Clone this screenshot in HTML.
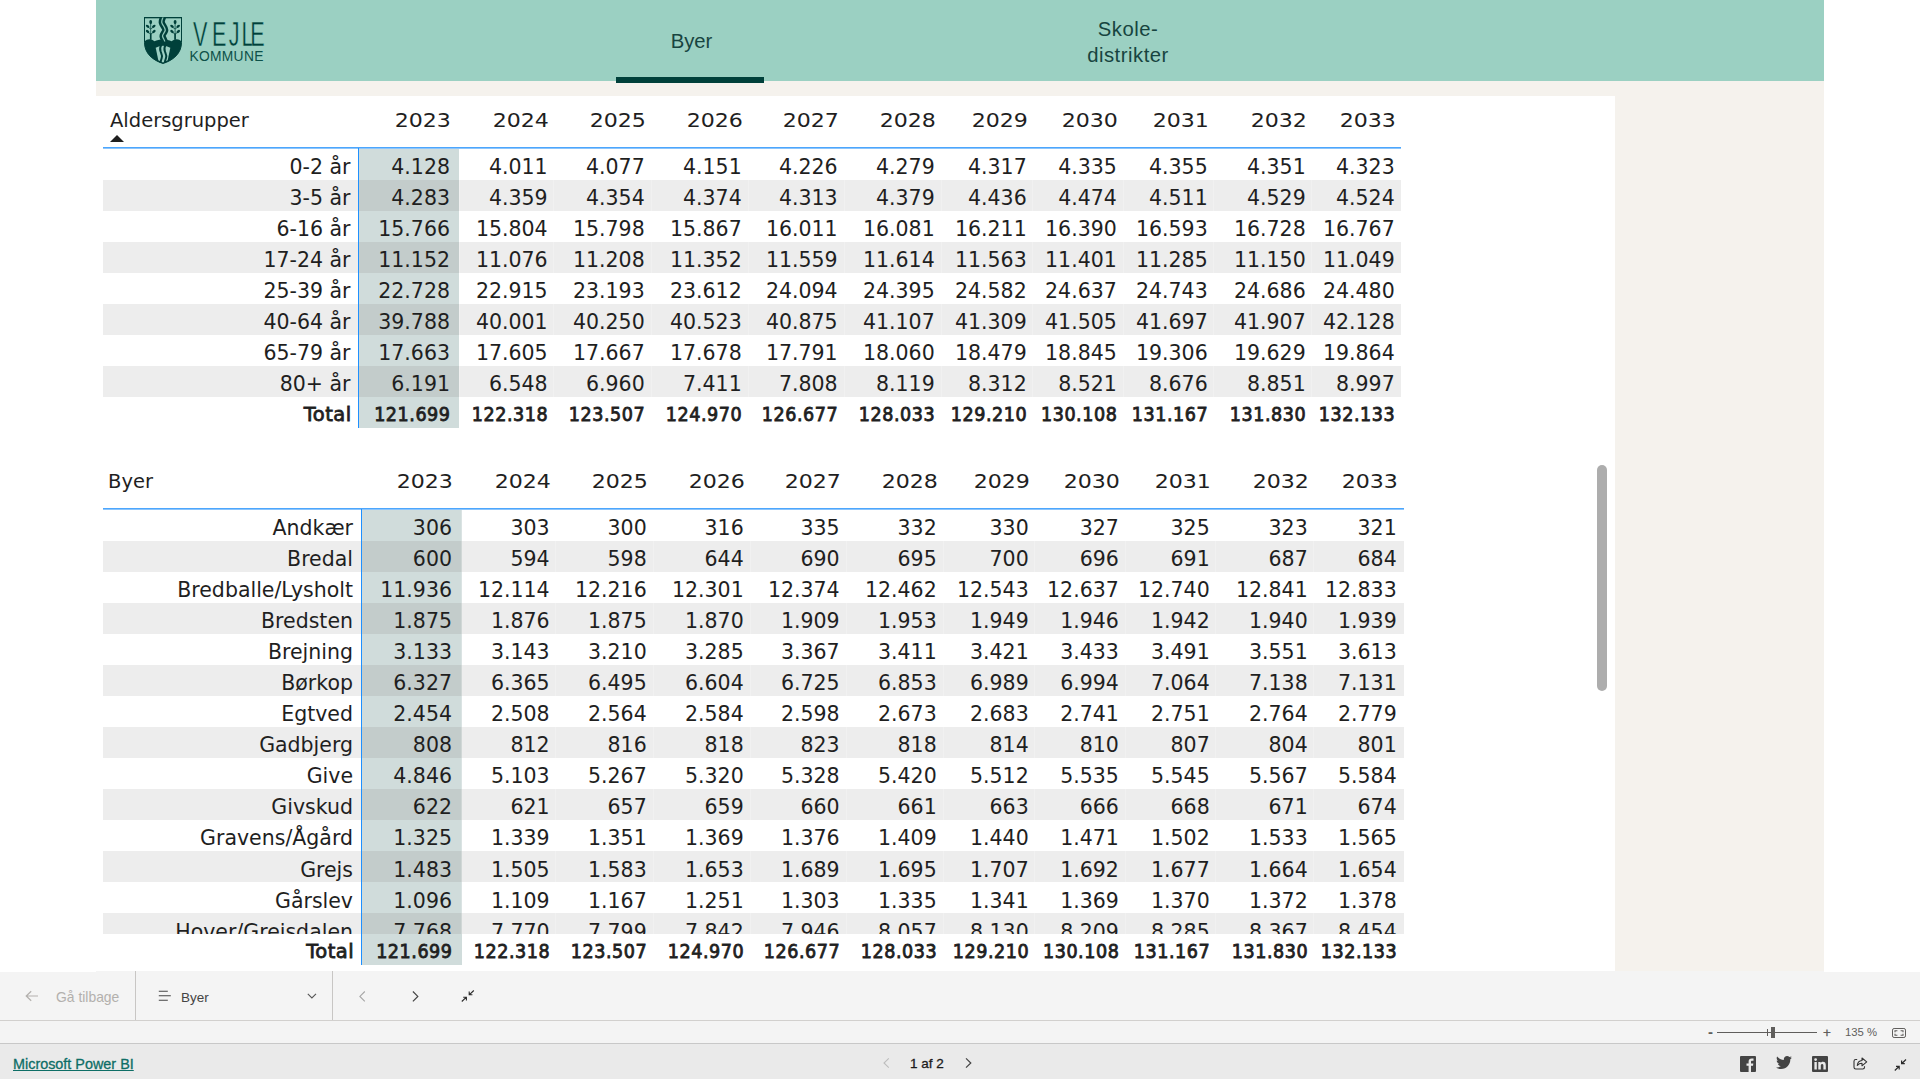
<!DOCTYPE html>
<html lang="da">
<head>
<meta charset="utf-8">
<title>Befolkningsprognose - Byer</title>
<style>
*{box-sizing:border-box;margin:0;padding:0}
html,body{width:1920px;height:1079px;overflow:hidden;background:#fff}
body{position:relative;font-family:"DejaVu Sans","Liberation Sans",sans-serif;color:#1f1f1f}
.abs{position:absolute}
#canvas{position:absolute;left:96px;top:0;width:1728px;height:971px;background:#f5f2ed;overflow:hidden}
#hdr{position:absolute;left:0;top:0;width:1728px;height:81px;background:#9bd0c2}
#panel{position:absolute;left:0;top:96px;width:1519px;height:875px;background:#fff}
.nav{position:absolute;color:#17443f;font-family:"Liberation Sans",sans-serif;font-size:20.3px;text-align:center;white-space:nowrap}
#navline{position:absolute;left:616px;top:77px;width:148px;height:5.5px;background:#00403a}
/* tables */
.tbl{position:absolute;height:540px;font-size:20.5px}
.hrow{position:absolute;left:0;right:0;height:31px;line-height:31px}
.hrow span{position:absolute;top:0;white-space:nowrap}
.hl{font-size:19.5px}
.hc{font-size:20px;transform:scaleX(1.105);transform-origin:100% 50%;margin-right:-1.3px}
.sort{position:absolute;width:0;height:0;border-left:7px solid transparent;border-right:7px solid transparent;border-bottom:7px solid #1f1f1f}
.hline{position:absolute;left:0;right:0;height:2px;background:linear-gradient(#4ca6fd 0,#4ca6fd 50%,#8cc5fc 50%,#8cc5fc 100%)}
.vline{position:absolute;width:1.4px;background:#1e90ff}
.body{position:absolute;left:0;right:0;overflow:hidden}
.row{position:absolute;left:0;right:0;height:31px;line-height:31px}
.row.alt{background:#ededed}
.row span{position:absolute;top:var(--o,1.5px);white-space:nowrap}
.hi{position:absolute;top:0;background:#d0dcdb}
.hia{position:absolute;top:0;height:31px;background:#c3cccb}
.cs{position:absolute;top:0;bottom:0;width:1px;background:rgba(255,255,255,0.22)}
.hit{position:absolute;top:0;height:31px;background:#d0dcdb}
.tot{font-size:19.5px;-webkit-text-stroke:0.8px #1f1f1f}
.tot .c{font-family:"DejaVu Sans Condensed","DejaVu Sans",sans-serif;font-stretch:condensed;letter-spacing:0.55px;margin-right:-0.55px}
.tot .lab{letter-spacing:0.5px;margin-right:-1.2px}
/* bottom bars */
#tb{position:absolute;left:0;top:971px;width:1920px;height:50px;background:#f4f4f4;border-bottom:1px solid #d2d0ce}
#zb{position:absolute;left:0;top:1021px;width:1920px;height:23px;background:#f4f4f4;border-bottom:1px solid #c8c8c8}
#ft{position:absolute;left:0;top:1044px;width:1920px;height:35px;background:#eaeaea}
.sep{position:absolute;top:971px;width:1px;height:49px;background:#c8c6c4}
.ui{position:absolute;font-family:"Liberation Sans",sans-serif;white-space:nowrap}
svg{position:absolute;overflow:visible}
</style>
</head>
<body>
<div id="canvas">
  <div id="hdr"></div>
  <div id="panel"></div>
</div>

<!-- logo -->
<svg style="left:144px;top:17px" width="38" height="47" viewBox="0 0 38 47">
  <path d="M0.5 0.6H37.5V25.5C37.5 36.5 29 43.4 19 46.5C9 43.4 0.5 36.5 0.5 25.5Z" fill="none" stroke="#00403a" stroke-width="1"/>
  <path d="M0 0H38V1.2H0Z" fill="#00403a"/>
  <path d="M0.5 24.4C2 23 3.6 22.3 5.3 22.3C7.3 22.3 9 23 10.5 24.3C12.8 23.2 15.6 22.6 19 22.6C22.4 22.6 25.2 23.2 27.6 24.3C29.1 23 30.8 22.3 32.8 22.3C34.5 22.3 36 23 37.5 24.4V25.5C37.5 36.500 29 43.400 19 46.5C9 43.400 0.500 36.500 0.500 25.500Z" fill="#00403a"/>
  <clipPath id="shc"><path d="M0.5 0.6H37.5V25.5C37.5 36.5 29 43.4 19 46.5C9 43.4 0.5 36.5 0.5 25.5Z"/></clipPath>
  <!-- river top -->
  <path d="M19.200 -1C19.200 1 17.300 3 17.800 5.600S21.800 11 21.200 13.500S18 17.500 18.600 19.500S20.700 23.200 20.700 24.500" fill="none" stroke="#00403a" stroke-width="6.200" clip-path="url(#shc)"/>
  <path d="M19.200 -1C19.200 1 17.300 3 17.800 5.600S21.800 11 21.200 13.500S18 17.500 18.600 19.500S20.700 23.200 20.700 24.500" fill="none" stroke="#8cc4b6" stroke-width="1.300" clip-path="url(#shc)"/>
  <!-- lower piers + river -->
  <path d="M11.700 30.700Q19 26.600 26.300 30.700L23.700 43.300L19 45.400L14.300 43.300Z" fill="#9bd0c2"/>
  <path d="M17.400 27.500C16 30 15.600 32 16.600 34.500S18.600 38.500 17.700 41S16.600 44.500 16.600 46" fill="none" stroke="#00403a" stroke-width="2"/>
  <path d="M21.700 27.500C20.300 30 19.900 32 20.900 34.500S22.900 38.500 22 41S20.800 44.500 20.800 46" fill="none" stroke="#00403a" stroke-width="2"/>
  <!-- trees -->
    <path d="M6.7 6V22.6" stroke="#1a5a52" stroke-width="0.9" fill="none"/>
    <path d="M6.7 16.5V22.8" stroke="#00403a" stroke-width="1.6" fill="none"/>
    <path d="M4.1 10.2L6.7 12L9.3 10.2M4.1 15.4L6.7 17.2L9.3 15.4" stroke="#00403a" stroke-width="0.7" fill="none"/>
    <ellipse cx="6.7" cy="5.1" rx="1.45" ry="2.1" fill="#00403a"/>
    <ellipse cx="3.6" cy="9.3" rx="2" ry="1.25" fill="#00403a" transform="rotate(38 3.6 9.3)"/>
    <ellipse cx="9.8" cy="9.3" rx="2" ry="1.25" fill="#00403a" transform="rotate(-38 9.8 9.3)"/>
    <ellipse cx="3.6" cy="14.5" rx="2" ry="1.25" fill="#00403a" transform="rotate(38 3.6 14.5)"/>
    <ellipse cx="9.9" cy="14.5" rx="2" ry="1.25" fill="#00403a" transform="rotate(-38 9.9 14.5)"/>
    <path d="M31.1 6V22.6" stroke="#1a5a52" stroke-width="0.9" fill="none"/>
    <path d="M31.1 16.5V22.8" stroke="#00403a" stroke-width="1.6" fill="none"/>
    <path d="M28.5 10.2L31.1 12L33.7 10.2M28.5 15.4L31.1 17.2L33.7 15.4" stroke="#00403a" stroke-width="0.7" fill="none"/>
    <ellipse cx="31.1" cy="5.1" rx="1.45" ry="2.1" fill="#00403a"/>
    <ellipse cx="28.0" cy="9.3" rx="2" ry="1.25" fill="#00403a" transform="rotate(38 28.0 9.3)"/>
    <ellipse cx="34.2" cy="9.3" rx="2" ry="1.25" fill="#00403a" transform="rotate(-38 34.2 9.3)"/>
    <ellipse cx="28.0" cy="14.5" rx="2" ry="1.25" fill="#00403a" transform="rotate(38 28.0 14.5)"/>
    <ellipse cx="34.3" cy="14.5" rx="2" ry="1.25" fill="#00403a" transform="rotate(-38 34.3 14.5)"/>
</svg>
<svg style="left:186px;top:15px" width="84" height="50" viewBox="0 0 84 50">
  <text transform="scale(0.6,1)" x="11.53 43.4 71.41 92.41 106.98" y="30.5" font-family="Liberation Sans, sans-serif" font-size="36" fill="#00403a" stroke="#9bd0c2" stroke-width="0.5">VEJLE</text>
  <text x="3.4" y="45.6" font-family="Liberation Sans, sans-serif" font-size="13.8" fill="#0d5049" textLength="74" lengthAdjust="spacing">KOMMUNE</text>
</svg>

<!-- nav -->
<div class="nav" style="left:641.5px;top:28.5px;width:100px;line-height:24px">Byer</div>
<div class="nav" style="left:1068px;top:15.5px;width:120px;line-height:26px;letter-spacing:0.5px">Skole-<br>distrikter</div>
<div id="navline"></div>

<div class="tbl" style="left:103px;top:96px;width:1298px">
<div class="hrow" style="top:8.900000000000006px">
<span class="hl" style="left:7px">Aldersgrupper</span>
<span class="hc" style="right:951.0px">2023</span>
<span class="hc" style="right:853.4px">2024</span>
<span class="hc" style="right:756.3px">2025</span>
<span class="hc" style="right:659.3px">2026</span>
<span class="hc" style="right:563.4px">2027</span>
<span class="hc" style="right:466.3px">2028</span>
<span class="hc" style="right:374.3px">2029</span>
<span class="hc" style="right:284.2px">2030</span>
<span class="hc" style="right:193.3px">2031</span>
<span class="hc" style="right:95.3px">2032</span>
<span class="hc" style="right:6.3px">2033</span>
</div>
<div class="sort" style="left:7px;top:39px"></div>
<div class="hline" style="top:51px"></div>
<div class="body" style="top:53px;height:248px">
<div class="hi" style="left:256px;width:100px;height:248px"></div>
<div class="row" style="top:0px;--o:2.55px">
<span class="lab" style="right:1050.5px">0-2 år</span>
<span class="c" style="right:951.0px">4.128</span>
<span class="c" style="right:853.4px">4.011</span>
<span class="c" style="right:756.3px">4.077</span>
<span class="c" style="right:659.3px">4.151</span>
<span class="c" style="right:563.4px">4.226</span>
<span class="c" style="right:466.3px">4.279</span>
<span class="c" style="right:374.3px">4.317</span>
<span class="c" style="right:284.2px">4.335</span>
<span class="c" style="right:193.3px">4.355</span>
<span class="c" style="right:95.3px">4.351</span>
<span class="c" style="right:6.3px">4.323</span>
</div>
<div class="row alt" style="top:31px;--o:2.64px">
<i class="hia" style="left:256px;width:100px"></i>
<span class="lab" style="right:1050.5px">3-5 år</span>
<span class="c" style="right:951.0px">4.283</span>
<span class="c" style="right:853.4px">4.359</span>
<span class="c" style="right:756.3px">4.354</span>
<span class="c" style="right:659.3px">4.374</span>
<span class="c" style="right:563.4px">4.313</span>
<span class="c" style="right:466.3px">4.379</span>
<span class="c" style="right:374.3px">4.436</span>
<span class="c" style="right:284.2px">4.474</span>
<span class="c" style="right:193.3px">4.511</span>
<span class="c" style="right:95.3px">4.529</span>
<span class="c" style="right:6.3px">4.524</span>
</div>
<div class="row" style="top:62px;--o:2.73px">
<span class="lab" style="right:1050.5px">6-16 år</span>
<span class="c" style="right:951.0px">15.766</span>
<span class="c" style="right:853.4px">15.804</span>
<span class="c" style="right:756.3px">15.798</span>
<span class="c" style="right:659.3px">15.867</span>
<span class="c" style="right:563.4px">16.011</span>
<span class="c" style="right:466.3px">16.081</span>
<span class="c" style="right:374.3px">16.211</span>
<span class="c" style="right:284.2px">16.390</span>
<span class="c" style="right:193.3px">16.593</span>
<span class="c" style="right:95.3px">16.728</span>
<span class="c" style="right:6.3px">16.767</span>
</div>
<div class="row alt" style="top:93px;--o:2.82px">
<i class="hia" style="left:256px;width:100px"></i>
<span class="lab" style="right:1050.5px">17-24 år</span>
<span class="c" style="right:951.0px">11.152</span>
<span class="c" style="right:853.4px">11.076</span>
<span class="c" style="right:756.3px">11.208</span>
<span class="c" style="right:659.3px">11.352</span>
<span class="c" style="right:563.4px">11.559</span>
<span class="c" style="right:466.3px">11.614</span>
<span class="c" style="right:374.3px">11.563</span>
<span class="c" style="right:284.2px">11.401</span>
<span class="c" style="right:193.3px">11.285</span>
<span class="c" style="right:95.3px">11.150</span>
<span class="c" style="right:6.3px">11.049</span>
</div>
<div class="row" style="top:124px;--o:2.91px">
<span class="lab" style="right:1050.5px">25-39 år</span>
<span class="c" style="right:951.0px">22.728</span>
<span class="c" style="right:853.4px">22.915</span>
<span class="c" style="right:756.3px">23.193</span>
<span class="c" style="right:659.3px">23.612</span>
<span class="c" style="right:563.4px">24.094</span>
<span class="c" style="right:466.3px">24.395</span>
<span class="c" style="right:374.3px">24.582</span>
<span class="c" style="right:284.2px">24.637</span>
<span class="c" style="right:193.3px">24.743</span>
<span class="c" style="right:95.3px">24.686</span>
<span class="c" style="right:6.3px">24.480</span>
</div>
<div class="row alt" style="top:155px;--o:3.00px">
<i class="hia" style="left:256px;width:100px"></i>
<span class="lab" style="right:1050.5px">40-64 år</span>
<span class="c" style="right:951.0px">39.788</span>
<span class="c" style="right:853.4px">40.001</span>
<span class="c" style="right:756.3px">40.250</span>
<span class="c" style="right:659.3px">40.523</span>
<span class="c" style="right:563.4px">40.875</span>
<span class="c" style="right:466.3px">41.107</span>
<span class="c" style="right:374.3px">41.309</span>
<span class="c" style="right:284.2px">41.505</span>
<span class="c" style="right:193.3px">41.697</span>
<span class="c" style="right:95.3px">41.907</span>
<span class="c" style="right:6.3px">42.128</span>
</div>
<div class="row" style="top:186px;--o:3.09px">
<span class="lab" style="right:1050.5px">65-79 år</span>
<span class="c" style="right:951.0px">17.663</span>
<span class="c" style="right:853.4px">17.605</span>
<span class="c" style="right:756.3px">17.667</span>
<span class="c" style="right:659.3px">17.678</span>
<span class="c" style="right:563.4px">17.791</span>
<span class="c" style="right:466.3px">18.060</span>
<span class="c" style="right:374.3px">18.479</span>
<span class="c" style="right:284.2px">18.845</span>
<span class="c" style="right:193.3px">19.306</span>
<span class="c" style="right:95.3px">19.629</span>
<span class="c" style="right:6.3px">19.864</span>
</div>
<div class="row alt" style="top:217px;--o:3.18px">
<i class="hia" style="left:256px;width:100px"></i>
<span class="lab" style="right:1050.5px">80+ år</span>
<span class="c" style="right:951.0px">6.191</span>
<span class="c" style="right:853.4px">6.548</span>
<span class="c" style="right:756.3px">6.960</span>
<span class="c" style="right:659.3px">7.411</span>
<span class="c" style="right:563.4px">7.808</span>
<span class="c" style="right:466.3px">8.119</span>
<span class="c" style="right:374.3px">8.312</span>
<span class="c" style="right:284.2px">8.521</span>
<span class="c" style="right:193.3px">8.676</span>
<span class="c" style="right:95.3px">8.851</span>
<span class="c" style="right:6.3px">8.997</span>
</div>
<i class="cs" style="left:355.5px"></i>
<i class="cs" style="left:449.5px"></i>
<i class="cs" style="left:547.5px"></i>
<i class="cs" style="left:645.0px"></i>
<i class="cs" style="left:740.5px"></i>
<i class="cs" style="left:837.5px"></i>
<i class="cs" style="left:928.5px"></i>
<i class="cs" style="left:1019.5px"></i>
<i class="cs" style="left:1110.0px"></i>
<i class="cs" style="left:1208.0px"></i>
</div>
<div class="row tot" style="top:301px;--o:2.0px">
<i class="hit" style="left:256px;width:100px"></i>
<span class="lab" style="right:1050.5px">Total</span>
<span class="c" style="right:951.0px">121.699</span>
<span class="c" style="right:853.4px">122.318</span>
<span class="c" style="right:756.3px">123.507</span>
<span class="c" style="right:659.3px">124.970</span>
<span class="c" style="right:563.4px">126.677</span>
<span class="c" style="right:466.3px">128.033</span>
<span class="c" style="right:374.3px">129.210</span>
<span class="c" style="right:284.2px">130.108</span>
<span class="c" style="right:193.3px">131.167</span>
<span class="c" style="right:95.3px">131.830</span>
<span class="c" style="right:6.3px">132.133</span>
</div>
<div class="vline" style="left:255px;top:52px;height:280px"></div>
</div>
<div class="tbl" style="left:103px;top:457px;width:1301px">
<div class="hrow" style="top:9px">
<span class="hl" style="left:5px">Byer</span>
<span class="hc" style="right:952.0px">2023</span>
<span class="hc" style="right:854.4px">2024</span>
<span class="hc" style="right:757.3px">2025</span>
<span class="hc" style="right:660.3px">2026</span>
<span class="hc" style="right:564.4px">2027</span>
<span class="hc" style="right:467.3px">2028</span>
<span class="hc" style="right:375.3px">2029</span>
<span class="hc" style="right:285.2px">2030</span>
<span class="hc" style="right:194.3px">2031</span>
<span class="hc" style="right:96.3px">2032</span>
<span class="hc" style="right:7.3px">2033</span>
</div>
<div class="hline" style="top:51px"></div>
<div class="body" style="top:53px;height:424px">
<div class="hi" style="left:259px;width:100px;height:434px"></div>
<div class="row" style="top:0px;--o:2.55px">
<span class="lab" style="right:1051px">Andkær</span>
<span class="c" style="right:952.0px">306</span>
<span class="c" style="right:854.4px">303</span>
<span class="c" style="right:757.3px">300</span>
<span class="c" style="right:660.3px">316</span>
<span class="c" style="right:564.4px">335</span>
<span class="c" style="right:467.3px">332</span>
<span class="c" style="right:375.3px">330</span>
<span class="c" style="right:285.2px">327</span>
<span class="c" style="right:194.3px">325</span>
<span class="c" style="right:96.3px">323</span>
<span class="c" style="right:7.3px">321</span>
</div>
<div class="row alt" style="top:31px;--o:2.64px">
<i class="hia" style="left:259px;width:100px"></i>
<span class="lab" style="right:1051px">Bredal</span>
<span class="c" style="right:952.0px">600</span>
<span class="c" style="right:854.4px">594</span>
<span class="c" style="right:757.3px">598</span>
<span class="c" style="right:660.3px">644</span>
<span class="c" style="right:564.4px">690</span>
<span class="c" style="right:467.3px">695</span>
<span class="c" style="right:375.3px">700</span>
<span class="c" style="right:285.2px">696</span>
<span class="c" style="right:194.3px">691</span>
<span class="c" style="right:96.3px">687</span>
<span class="c" style="right:7.3px">684</span>
</div>
<div class="row" style="top:62px;--o:2.73px">
<span class="lab" style="right:1051px">Bredballe/Lysholt</span>
<span class="c" style="right:952.0px">11.936</span>
<span class="c" style="right:854.4px">12.114</span>
<span class="c" style="right:757.3px">12.216</span>
<span class="c" style="right:660.3px">12.301</span>
<span class="c" style="right:564.4px">12.374</span>
<span class="c" style="right:467.3px">12.462</span>
<span class="c" style="right:375.3px">12.543</span>
<span class="c" style="right:285.2px">12.637</span>
<span class="c" style="right:194.3px">12.740</span>
<span class="c" style="right:96.3px">12.841</span>
<span class="c" style="right:7.3px">12.833</span>
</div>
<div class="row alt" style="top:93px;--o:2.82px">
<i class="hia" style="left:259px;width:100px"></i>
<span class="lab" style="right:1051px">Bredsten</span>
<span class="c" style="right:952.0px">1.875</span>
<span class="c" style="right:854.4px">1.876</span>
<span class="c" style="right:757.3px">1.875</span>
<span class="c" style="right:660.3px">1.870</span>
<span class="c" style="right:564.4px">1.909</span>
<span class="c" style="right:467.3px">1.953</span>
<span class="c" style="right:375.3px">1.949</span>
<span class="c" style="right:285.2px">1.946</span>
<span class="c" style="right:194.3px">1.942</span>
<span class="c" style="right:96.3px">1.940</span>
<span class="c" style="right:7.3px">1.939</span>
</div>
<div class="row" style="top:124px;--o:2.91px">
<span class="lab" style="right:1051px">Brejning</span>
<span class="c" style="right:952.0px">3.133</span>
<span class="c" style="right:854.4px">3.143</span>
<span class="c" style="right:757.3px">3.210</span>
<span class="c" style="right:660.3px">3.285</span>
<span class="c" style="right:564.4px">3.367</span>
<span class="c" style="right:467.3px">3.411</span>
<span class="c" style="right:375.3px">3.421</span>
<span class="c" style="right:285.2px">3.433</span>
<span class="c" style="right:194.3px">3.491</span>
<span class="c" style="right:96.3px">3.551</span>
<span class="c" style="right:7.3px">3.613</span>
</div>
<div class="row alt" style="top:155px;--o:3.00px">
<i class="hia" style="left:259px;width:100px"></i>
<span class="lab" style="right:1051px">Børkop</span>
<span class="c" style="right:952.0px">6.327</span>
<span class="c" style="right:854.4px">6.365</span>
<span class="c" style="right:757.3px">6.495</span>
<span class="c" style="right:660.3px">6.604</span>
<span class="c" style="right:564.4px">6.725</span>
<span class="c" style="right:467.3px">6.853</span>
<span class="c" style="right:375.3px">6.989</span>
<span class="c" style="right:285.2px">6.994</span>
<span class="c" style="right:194.3px">7.064</span>
<span class="c" style="right:96.3px">7.138</span>
<span class="c" style="right:7.3px">7.131</span>
</div>
<div class="row" style="top:186px;--o:3.09px">
<span class="lab" style="right:1051px">Egtved</span>
<span class="c" style="right:952.0px">2.454</span>
<span class="c" style="right:854.4px">2.508</span>
<span class="c" style="right:757.3px">2.564</span>
<span class="c" style="right:660.3px">2.584</span>
<span class="c" style="right:564.4px">2.598</span>
<span class="c" style="right:467.3px">2.673</span>
<span class="c" style="right:375.3px">2.683</span>
<span class="c" style="right:285.2px">2.741</span>
<span class="c" style="right:194.3px">2.751</span>
<span class="c" style="right:96.3px">2.764</span>
<span class="c" style="right:7.3px">2.779</span>
</div>
<div class="row alt" style="top:217px;--o:3.18px">
<i class="hia" style="left:259px;width:100px"></i>
<span class="lab" style="right:1051px">Gadbjerg</span>
<span class="c" style="right:952.0px">808</span>
<span class="c" style="right:854.4px">812</span>
<span class="c" style="right:757.3px">816</span>
<span class="c" style="right:660.3px">818</span>
<span class="c" style="right:564.4px">823</span>
<span class="c" style="right:467.3px">818</span>
<span class="c" style="right:375.3px">814</span>
<span class="c" style="right:285.2px">810</span>
<span class="c" style="right:194.3px">807</span>
<span class="c" style="right:96.3px">804</span>
<span class="c" style="right:7.3px">801</span>
</div>
<div class="row" style="top:248px;--o:3.27px">
<span class="lab" style="right:1051px">Give</span>
<span class="c" style="right:952.0px">4.846</span>
<span class="c" style="right:854.4px">5.103</span>
<span class="c" style="right:757.3px">5.267</span>
<span class="c" style="right:660.3px">5.320</span>
<span class="c" style="right:564.4px">5.328</span>
<span class="c" style="right:467.3px">5.420</span>
<span class="c" style="right:375.3px">5.512</span>
<span class="c" style="right:285.2px">5.535</span>
<span class="c" style="right:194.3px">5.545</span>
<span class="c" style="right:96.3px">5.567</span>
<span class="c" style="right:7.3px">5.584</span>
</div>
<div class="row alt" style="top:279px;--o:3.36px">
<i class="hia" style="left:259px;width:100px"></i>
<span class="lab" style="right:1051px">Givskud</span>
<span class="c" style="right:952.0px">622</span>
<span class="c" style="right:854.4px">621</span>
<span class="c" style="right:757.3px">657</span>
<span class="c" style="right:660.3px">659</span>
<span class="c" style="right:564.4px">660</span>
<span class="c" style="right:467.3px">661</span>
<span class="c" style="right:375.3px">663</span>
<span class="c" style="right:285.2px">666</span>
<span class="c" style="right:194.3px">668</span>
<span class="c" style="right:96.3px">671</span>
<span class="c" style="right:7.3px">674</span>
</div>
<div class="row" style="top:310px;--o:3.45px">
<span class="lab" style="right:1051px">Gravens/Ågård</span>
<span class="c" style="right:952.0px">1.325</span>
<span class="c" style="right:854.4px">1.339</span>
<span class="c" style="right:757.3px">1.351</span>
<span class="c" style="right:660.3px">1.369</span>
<span class="c" style="right:564.4px">1.376</span>
<span class="c" style="right:467.3px">1.409</span>
<span class="c" style="right:375.3px">1.440</span>
<span class="c" style="right:285.2px">1.471</span>
<span class="c" style="right:194.3px">1.502</span>
<span class="c" style="right:96.3px">1.533</span>
<span class="c" style="right:7.3px">1.565</span>
</div>
<div class="row alt" style="top:341px;--o:3.54px">
<i class="hia" style="left:259px;width:100px"></i>
<span class="lab" style="right:1051px">Grejs</span>
<span class="c" style="right:952.0px">1.483</span>
<span class="c" style="right:854.4px">1.505</span>
<span class="c" style="right:757.3px">1.583</span>
<span class="c" style="right:660.3px">1.653</span>
<span class="c" style="right:564.4px">1.689</span>
<span class="c" style="right:467.3px">1.695</span>
<span class="c" style="right:375.3px">1.707</span>
<span class="c" style="right:285.2px">1.692</span>
<span class="c" style="right:194.3px">1.677</span>
<span class="c" style="right:96.3px">1.664</span>
<span class="c" style="right:7.3px">1.654</span>
</div>
<div class="row" style="top:372px;--o:3.63px">
<span class="lab" style="right:1051px">Gårslev</span>
<span class="c" style="right:952.0px">1.096</span>
<span class="c" style="right:854.4px">1.109</span>
<span class="c" style="right:757.3px">1.167</span>
<span class="c" style="right:660.3px">1.251</span>
<span class="c" style="right:564.4px">1.303</span>
<span class="c" style="right:467.3px">1.335</span>
<span class="c" style="right:375.3px">1.341</span>
<span class="c" style="right:285.2px">1.369</span>
<span class="c" style="right:194.3px">1.370</span>
<span class="c" style="right:96.3px">1.372</span>
<span class="c" style="right:7.3px">1.378</span>
</div>
<div class="row alt" style="top:403px;--o:3.72px">
<i class="hia" style="left:259px;width:100px"></i>
<span class="lab" style="right:1051px">Hover/Grejsdalen</span>
<span class="c" style="right:952.0px">7.768</span>
<span class="c" style="right:854.4px">7.770</span>
<span class="c" style="right:757.3px">7.799</span>
<span class="c" style="right:660.3px">7.842</span>
<span class="c" style="right:564.4px">7.946</span>
<span class="c" style="right:467.3px">8.057</span>
<span class="c" style="right:375.3px">8.130</span>
<span class="c" style="right:285.2px">8.209</span>
<span class="c" style="right:194.3px">8.285</span>
<span class="c" style="right:96.3px">8.367</span>
<span class="c" style="right:7.3px">8.454</span>
</div>
<i class="cs" style="left:357.5px"></i>
<i class="cs" style="left:451.5px"></i>
<i class="cs" style="left:549.5px"></i>
<i class="cs" style="left:647.0px"></i>
<i class="cs" style="left:742.5px"></i>
<i class="cs" style="left:839.5px"></i>
<i class="cs" style="left:930.5px"></i>
<i class="cs" style="left:1021.5px"></i>
<i class="cs" style="left:1112.0px"></i>
<i class="cs" style="left:1210.0px"></i>
</div>
<div class="row tot" style="top:477px;--o:2.1px">
<i class="hit" style="left:259px;width:100px"></i>
<span class="lab" style="right:1051px">Total</span>
<span class="c" style="right:952.0px">121.699</span>
<span class="c" style="right:854.4px">122.318</span>
<span class="c" style="right:757.3px">123.507</span>
<span class="c" style="right:660.3px">124.970</span>
<span class="c" style="right:564.4px">126.677</span>
<span class="c" style="right:467.3px">128.033</span>
<span class="c" style="right:375.3px">129.210</span>
<span class="c" style="right:285.2px">130.108</span>
<span class="c" style="right:194.3px">131.167</span>
<span class="c" style="right:96.3px">131.830</span>
<span class="c" style="right:7.3px">132.133</span>
</div>
<div class="vline" style="left:258px;top:52px;height:456px"></div>
</div>

<!-- scrollbar -->
<div class="abs" style="left:1597px;top:465px;width:10px;height:226px;border-radius:5px;background:#adadad"></div>

<!-- bottom toolbar -->
<div id="tb"></div>
<div id="zb"></div>
<div id="ft"></div>
<div class="abs" style="left:0;top:971px;width:96px;height:1.2px;background:#fff"></div>
<div class="abs" style="left:1824px;top:971px;width:96px;height:1.2px;background:#fff"></div>
<div class="sep" style="left:135px"></div>
<div class="sep" style="left:332px"></div>

<svg style="left:25px;top:990px" width="14" height="12" viewBox="0 0 14 12"><path d="M6.2 1.2L1.2 6L6.2 10.8M1.2 6H13" fill="none" stroke="#b3b0ad" stroke-width="1.2"/></svg>
<div class="ui" style="left:56px;top:988.6px;font-size:13.9px;line-height:17px;color:#b3b0ad">Gå tilbage</div>
<svg style="left:158px;top:990px" width="14" height="12" viewBox="0 0 14 12"><path d="M0.8 1.2H9.8M0.8 5.7H12.8M0.8 10.2H9.8" fill="none" stroke="#444" stroke-width="1.1"/></svg>
<div class="ui" style="left:181px;top:988.7px;font-size:13.5px;line-height:17px;color:#444">Byer</div>
<svg style="left:307px;top:993px" width="10" height="6" viewBox="0 0 10 6"><path d="M0.8 0.8L4.9 4.9L9 0.8" fill="none" stroke="#555" stroke-width="1.1"/></svg>
<svg style="left:359px;top:991px" width="7" height="11" viewBox="0 0 7 11"><path d="M5.8 0.5L0.9 5.4L5.8 10.3" fill="none" stroke="#a6a6a6" stroke-width="1.1"/></svg>
<svg style="left:412px;top:991px" width="7" height="11" viewBox="0 0 7 11"><path d="M0.9 0.5L5.8 5.4L0.9 10.3" fill="none" stroke="#444" stroke-width="1.2"/></svg>
<svg style="left:461px;top:990px" width="14" height="12" viewBox="0 0 14 12"><path d="M12.8 0.5L8.2 4.8M8.2 1.6V4.8H11.4M0.8 11.5L5.4 7.2M5.4 10.4V7.2H2.2" fill="none" stroke="#2b2b2b" stroke-width="1.1"/></svg>

<!-- zoom bar -->
<div class="ui" style="left:1708px;top:1024.3px;font-size:15px;line-height:16px;color:#605e5c;font-weight:bold">-</div>
<div class="abs" style="left:1717px;top:1032px;width:100px;height:1px;background:#605e5c"></div>
<div class="abs" style="left:1767px;top:1029px;width:1px;height:7px;background:#605e5c"></div>
<div class="abs" style="left:1771px;top:1027px;width:4px;height:11px;background:#605e5c"></div>
<div class="ui" style="left:1823px;top:1024.5px;font-size:13.5px;line-height:16px;color:#605e5c;-webkit-text-stroke:0.3px #605e5c">+</div>
<div class="ui" style="left:1845px;top:1024.2px;font-size:11.3px;line-height:16px;color:#605e5c">135 %</div>
<svg style="left:1892px;top:1028px" width="14" height="10" viewBox="0 0 14 10"><rect x="0.5" y="0.5" width="13" height="9" rx="1.6" fill="none" stroke="#605e5c" stroke-width="1"/><path d="M3 4.300V2.800H5.400M8.600 2.800H11V4.300M11 5.700V7.200H8.600M5.400 7.200H3V5.700" fill="none" stroke="#605e5c" stroke-width="1.1"/></svg>

<!-- footer -->
<div class="ui" style="left:13px;top:1055px;font-size:14.4px;line-height:18px;color:#0e6e66;text-decoration:underline;-webkit-text-stroke:0.3px #0e6e66">Microsoft Power BI</div>
<svg style="left:883px;top:1058px" width="7" height="10" viewBox="0 0 7 10"><path d="M5.8 0.4L1 5L5.8 9.6" fill="none" stroke="#bdbdbd" stroke-width="1.1"/></svg>
<div class="ui" style="left:910px;top:1054.6px;font-size:13.5px;line-height:17px;color:#1b1b1b;-webkit-text-stroke:0.3px #1b1b1b">1 af 2</div>
<svg style="left:965px;top:1058px" width="7" height="10" viewBox="0 0 7 10"><path d="M1 0.4L5.8 5L1 9.6" fill="none" stroke="#444" stroke-width="1.2"/></svg>

<!-- social icons -->
<svg style="left:1740px;top:1056px" width="16" height="16" viewBox="0 0 16 16"><rect width="16" height="16" rx="1" fill="#444"/><path d="M11 16V9.8h2l.3-2.4H11V5.9c0-.7.2-1.2 1.2-1.2h1.3V2.6c-.2 0-1-.1-1.800-.1-1.900 0-3.100 1.100-3.100 3.200v1.700H6.500v2.400h2.100V16z" fill="#eaeaea"/></svg>
<svg style="left:1776px;top:1056px" width="16" height="13" viewBox="0 0 16 13"><path d="M16 1.500c-.6.300-1.200.500-1.900.500.700-.400 1.200-1 1.400-1.800-.600.400-1.300.600-2.100.800C12.800.400 12 0 11.100 0 9.300 0 7.800 1.500 7.800 3.300c0 .300 0 .500.100.700C5.200 3.900 2.700 2.600 1.100.600c-.300.500-.400 1-.400 1.700 0 1.100.600 2.100 1.500 2.700-.500 0-1-.200-1.500-.400 0 1.600 1.100 2.900 2.600 3.200-.300.100-.600.100-.900.100-.200 0-.400 0-.600-.100.400 1.300 1.600 2.300 3.100 2.300-1.100.900-2.500 1.400-4.100 1.400-.300 0-.500 0-.800 0 1.500.900 3.200 1.500 5 1.500 6 0 9.300-5 9.300-9.300 0-.100 0-.300 0-.400.700-.500 1.200-1.100 1.700-1.800z" fill="#444"/></svg>
<svg style="left:1812px;top:1056px" width="16" height="16" viewBox="0 0 16 16"><rect width="16" height="16" rx="1" fill="#444"/><path d="M2.400 6h2.400v7.600H2.400zM3.600 2.200a1.400 1.400 0 1 1 0 2.800 1.400 1.400 0 0 1 0-2.800zM6.300 6h2.300v1h0c.300-.600 1.100-1.200 2.300-1.200 2.400 0 2.900 1.600 2.900 3.700v4.100h-2.400V9.900c0-.900 0-2-1.200-2s-1.400 1-1.400 1.900v3.800H6.300z" fill="#eaeaea"/></svg>
<svg style="left:1853px;top:1057px" width="15" height="13" viewBox="0 0 15 13"><path d="M4.200 2.500H2.700C1.700 2.500 1 3.200 1 4.200v6.100c0 1 .7 1.700 1.700 1.700h7.100c1 0 1.700-.7 1.700-1.700V9.200" fill="none" stroke="#333" stroke-width="1.1"/><path d="M9 1v2.500C6 3.700 4.500 5.800 4.300 8.500 5.500 6.900 7 6.300 9 6.300v2.500L13.700 4.900z" fill="none" stroke="#333" stroke-width="1.1" stroke-linejoin="round"/></svg>
<svg style="left:1894px;top:1059px" width="13" height="12" viewBox="0 0 13 12"><path d="M12 0.500L7.600 4.700M7.600 1.500V4.700H10.800M0.800 11.500L5.200 7.300M5.200 10.500V7.300H2" fill="none" stroke="#2b2b2b" stroke-width="1.2"/></svg>
</body>
</html>
